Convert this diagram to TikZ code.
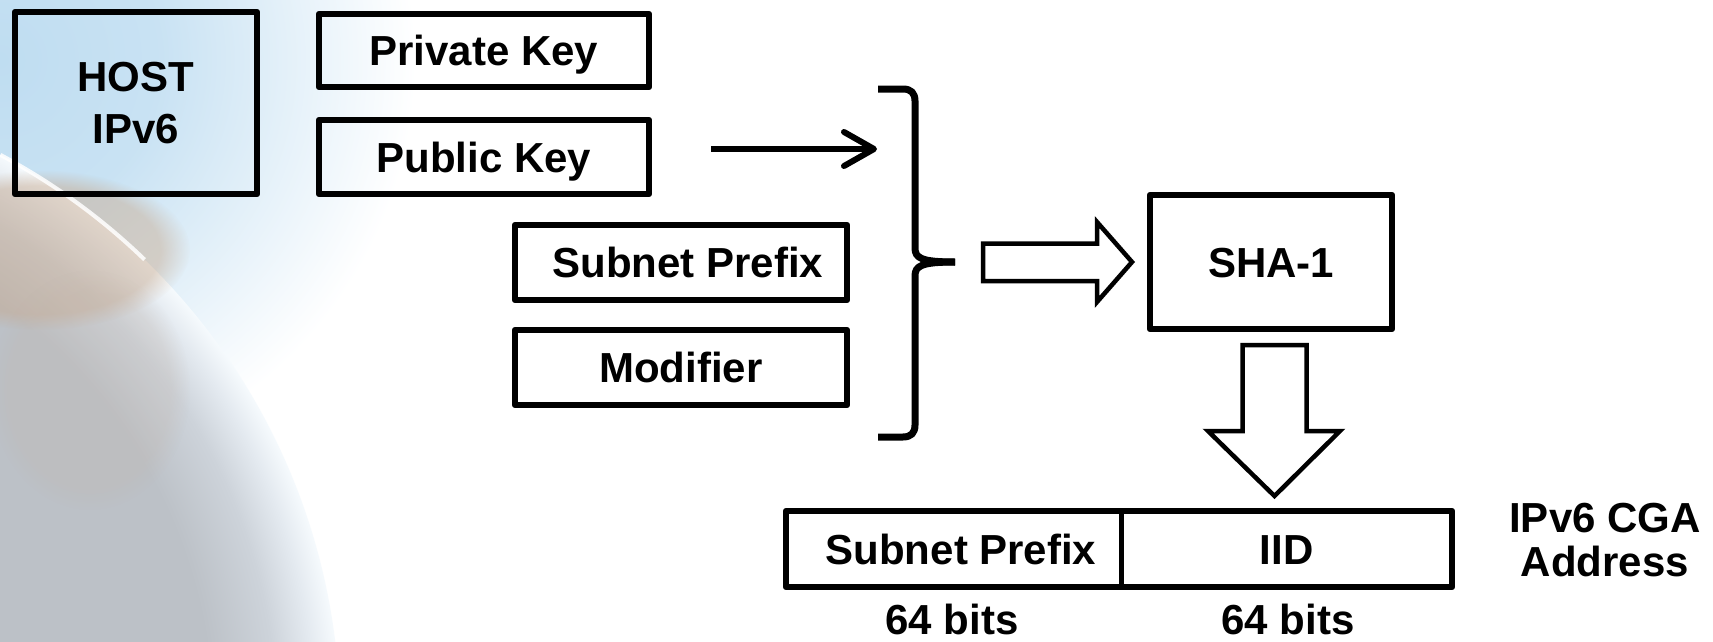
\documentclass[tikz,border=0pt]{standalone}
\usepackage{fontspec}
\setmainfont{Liberation Sans}
\usetikzlibrary{arrows.meta,fadings}
\definecolor{sky}{HTML}{BFDDF1}
\definecolor{earthA}{HTML}{BCC1C7}
\definecolor{earthB}{HTML}{CDD3DA}
\definecolor{earthC}{HTML}{E4EAF0}
\definecolor{landtan}{HTML}{C7A88C}
% a radial shading on a circle reaches the circle's rim at 25bp
\pgfdeclareradialshading{earthshade}{\pgfpoint{0bp}{0bp}}{%
  color(0bp)=(earthA); color(20bp)=(earthA); color(22.5bp)=(earthB);
  color(24bp)=(earthC); color(25bp)=(white!85!sky); color(50bp)=(white)}
\pgfdeclareradialshading{skyshade}{\pgfpoint{0bp}{0bp}}{%
  color(0bp)=(sky); color(5bp)=(sky!85!white); color(13bp)=(white); color(50bp)=(white)}
\begin{document}
\begin{tikzpicture}[x=1pt,y=-1pt,
  boxbase/.style={draw=black, line width=6.5pt, line join=round, inner sep=0pt,
    font=\bfseries\fontsize{42}{52}\selectfont},
  box/.style={boxbase, text height=30pt, text depth=0pt},
  cell/.style={inner sep=0pt, outer sep=0pt, font=\bfseries\fontsize{42}{52}\selectfont,
    text height=30pt, text depth=0pt},
  lbl/.style={inner sep=0pt, font=\bfseries\fontsize{42}{44}\selectfont, align=center},
  blockarrow/.style={draw=black, fill=white, line width=4.5pt, line join=miter},
  thinarrow/.style={line width=6pt, -{Straight Barb[length=30pt,width=34pt,round]}},
  bracestyle/.style={line width=7pt, line join=round, line cap=butt}
  ]
\useasboundingbox (0,0) rectangle (1713,642);
% background (sky and faded globe)
\begin{scope}
  \clip (0,0) rectangle (1713,642);
  \fill[white] (0,0) rectangle (1713,642);
  \shade[shading=skyshade] (0,60) circle (800);
  \shade[shading=earthshade] (-300,720) circle (640);
  \fill[landtan, opacity=0.45, path fading=circle with fuzzy edge 20 percent] (40,250) ellipse (150 and 80);
  \fill[landtan!60!earthA, opacity=0.2, path fading=circle with fuzzy edge 20 percent] (90,390) ellipse (100 and 120);
  \draw[white, line width=4pt, opacity=0.85] (-300,720) ++(-62:640) arc[start angle=-62, end angle=-46, radius=640];
\end{scope}

% boxes
\node[boxbase, minimum width=242pt, minimum height=182pt, align=center] (host) at (136,103) {HOST\\IPv6};
\node[box, minimum width=330pt, minimum height=73pt] (priv) at (484,50.5) {Private Key};
\node[box, minimum width=330pt, minimum height=74pt] (pub) at (484,157) {Public Key};
\node[box, minimum width=332pt, minimum height=75pt] (subnet) at (681,262.5) {\hspace*{14pt}Subnet Prefix};
\node[box, minimum width=332pt, minimum height=75pt] (modif) at (681,367.5) {Modifier};
\node[box, minimum width=242pt, minimum height=134pt] (sha) at (1271,262) {SHA-1};

% address bar
\node[cell, minimum width=335pt, minimum height=76pt] (barL) at (953.5,549) {\hspace*{15pt}Subnet Prefix};
\node[cell, minimum width=331pt, minimum height=76pt] (barR) at (1286.5,549) {IID};
\draw[line width=6.5pt, line join=round] (barL.north west) rectangle (barR.south east);
\draw[line width=5pt] (barL.north east) -- (barL.south east);
\node[lbl, anchor=base] (bitsL) at (952,634) {64 bits};
\node[lbl, anchor=base] (bitsR) at (1288,634) {64 bits};
\node[lbl] (cga) at (1605,540) {IPv6 CGA\\Address};

% thin arrow from public key to the brace
\coordinate (pkA) at (711,149);
\coordinate (pkB) at (877,149);
\draw[thinarrow] (pkA) -- (pkB);

% brace
\coordinate (brTop) at (878,89);
\coordinate (brTip) at (955,262);
\coordinate (brBot) at (878,437);
\draw[bracestyle] (brTop) -- (903,89) .. controls (911,89) and (915,93) .. (915,101)
  -- (915,248) .. controls (915,258) and (921,262) .. (brTip);
\draw[bracestyle] (brTip) .. controls (921,262) and (915,266) .. (915,276)
  -- (915,425) .. controls (915,433) and (911,437) .. (903,437) -- (brBot);

% block arrow right: brace -> SHA-1
\draw[blockarrow] (983,243.5) -- (1097,243.5) -- (1097,222) -- (1132,262)
  -- (1097,302) -- (1097,281) -- (983,281) -- cycle;
% block arrow down: SHA-1 -> IID
\draw[blockarrow] (1242.5,345) -- (1306.5,345) -- (1306.5,431) -- (1340,431)
  -- (1274.5,496) -- (1208,431) -- (1242.5,431) -- cycle;
\end{tikzpicture}
\end{document}
